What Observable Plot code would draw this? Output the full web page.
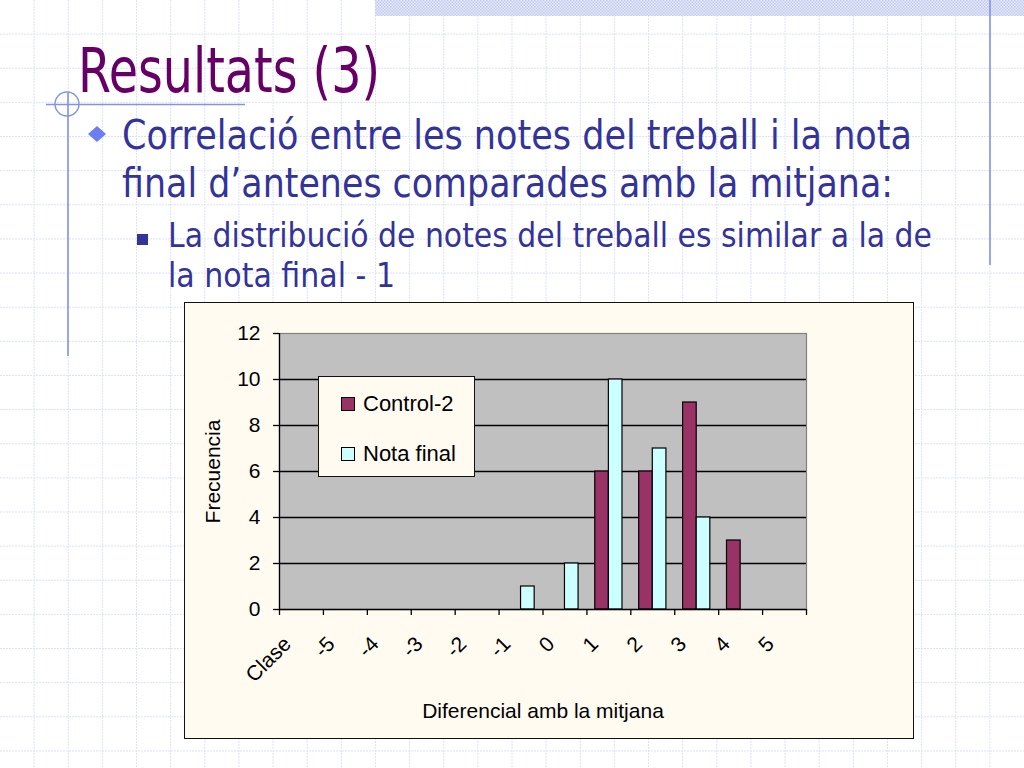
<!DOCTYPE html>
<html>
<head>
<meta charset="utf-8">
<script src="https://cdn.jsdelivr.net/npm/d3@7"></script>
<script src="https://cdn.jsdelivr.net/npm/@observablehq/plot@0.6"></script>
<style>
  html, body { margin: 0; padding: 0; background: #fff; }
  #slide { position: relative; width: 1024px; height: 768px; overflow: hidden; background: #fff; }
  #bg { position: absolute; left: 0; top: 0; }
  #chart { position: absolute; left: 185px; top: 303px; width: 728px; height: 435px; background: #FFFBF1; outline: 1.6px solid #111; }
  #legend { position: absolute; left: 318px; top: 376px; width: 157px; height: 101px; background: #FFFBF1; border: 1.3px solid #111; box-sizing: border-box;
            font-family: "Liberation Sans", Arial, sans-serif; font-size: 22px; color: #000; }
  .item { position: absolute; left: 22px; display: flex; align-items: center; white-space: nowrap; }
  .sw { width: 12px; height: 12px; border: 1px solid #000; margin-right: 8px; }
</style>
</head>
<body>
<div id="slide">
  <svg id="bg" width="1024" height="768"></svg>
  <div id="chart"></div>
  <div id="legend"></div>
</div>
<script>
// ---- data ----
const categories = ["Clase", "-5", "-4", "-3", "-2", "-1", "0", "1", "2", "3", "4", "5"];
const control2  = [0, 0, 0, 0, 0, 0, 0, 6, 6, 9, 3, 0];
const notaFinal = [0, 0, 0, 0, 0, 1, 2, 10, 7, 4, 0, 0];
const seriesNames = ["Control-2", "Nota final"];
const seriesColors = ["#993366", "#CCFFFF"];
const yTicks = [0, 2, 4, 6, 8, 10, 12];
const xTitle = "Diferencial amb la mitjana";
const yTitle = "Frecuencia";
const slideTitle = "Resultats (3)";
const bullet1 = ["Correlació entre les notes del treball i la nota", "final d’antenes comparades amb la mitjana:"];
const bullet2 = ["La distribució de notes del treball es similar a la de", "la nota final - 1"];

// ---- slide background (graph paper, decorations, text) ----
const NS = "http://www.w3.org/2000/svg";
const bg = document.getElementById("bg");
function el(tag, attrs, parent = bg) {
  const e = document.createElementNS(NS, tag);
  for (const k in attrs) e.setAttribute(k, attrs[k]);
  parent.appendChild(e);
  return e;
}
const defs = el("defs", {});
const pat = el("pattern", {id: "chk", width: 3, height: 3, patternUnits: "userSpaceOnUse"}, defs);
el("rect", {width: 3, height: 3, fill: "#e6eafb"}, pat);
el("rect", {width: 1.5, height: 1.5, fill: "#c3cbf2"}, pat);
el("rect", {x: 1.5, y: 1.5, width: 1.5, height: 1.5, fill: "#c3cbf2"}, pat);

const step = 1024 / 30;
for (let k = 1; k * step < 1024; k++) {
  el("line", {x1: k * step, x2: k * step, y1: 0, y2: 768, stroke: "#dde2f6", "stroke-width": 1, "stroke-dasharray": "2,1"});
}
for (let k = 1; k * step < 768; k++) {
  el("line", {x1: 0, x2: 1024, y1: k * step, y2: k * step, stroke: "#dde2f6", "stroke-width": 1, "stroke-dasharray": "2,1"});
}
el("rect", {x: 375, y: 0, width: 649, height: 16, fill: "url(#chk)"});
const deco = "#8193e4";
el("line", {x1: 990, x2: 990, y1: 0, y2: 265, stroke: deco, "stroke-width": 1.6});
el("line", {x1: 46, x2: 245, y1: 104.5, y2: 104.5, stroke: deco, "stroke-width": 1.6});
el("line", {x1: 68, x2: 68, y1: 93, y2: 356, stroke: deco, "stroke-width": 1.6});
el("circle", {cx: 67, cy: 104, r: 12, fill: "none", stroke: deco, "stroke-width": 1.4});

const tFont = '"DejaVu Sans Condensed", "DejaVu Sans", sans-serif';
function txt(s, x, y, size, fill, len) {
  const t = el("text", {x, y, "font-family": tFont, "font-size": size, fill, textLength: len, lengthAdjust: "spacingAndGlyphs"});
  t.textContent = s;
}
txt(slideTitle, 78, 92, 62, "#660066", 302);
txt(bullet1[0], 122, 149, 40, "#333399", 790);
txt(bullet1[1], 122, 197, 40, "#333399", 771);
txt(bullet2[0], 168, 247, 33, "#333399", 764);
txt(bullet2[1], 168, 287, 33, "#333399", 227);
el("path", {d: "M97,126 L106,134 L97,142 L88,134 Z", fill: "#6b7ff0"});
el("rect", {x: 137, y: 234, width: 11, height: 11, fill: "#333399"});

// ---- chart ----
const rows = [];
categories.forEach((c, i) => {
  rows.push({i, cat: c, series: seriesNames[0], value: control2[i]});
  rows.push({i, cat: c, series: seriesNames[1], value: notaFinal[i]});
});
const bars = rows.filter(d => d.value > 0);
const slot = {"Control-2": [0.19, 0.5], "Nota final": [0.5, 0.81]};

const chart = Plot.plot({
  width: 728, height: 435,
  marginLeft: 94, marginRight: 107, marginTop: 30, marginBottom: 129,
  style: {background: "transparent", fontFamily: '"Liberation Sans", Arial, sans-serif', fontSize: "21px", color: "#000", overflow: "visible"},
  x: {domain: [0, categories.length], axis: null},
  y: {domain: [0, 12], axis: null},
  color: {domain: seriesNames, range: seriesColors},
  marks: [
    Plot.frame({fill: "#C0C0C0", stroke: "#808080", strokeWidth: 1.2}),
    Plot.ruleY(yTicks.filter(t => t > 0 && t < 12), {stroke: "#000", strokeWidth: 1.3}),
    Plot.rectY(bars, {x1: d => d.i + slot[d.series][0], x2: d => d.i + slot[d.series][1], y: "value", fill: "series", stroke: "#000", strokeWidth: 1.2}),
    Plot.ruleX([0], {stroke: "#000", strokeWidth: 1.3}),
    Plot.ruleY([0], {stroke: "#000", strokeWidth: 1.3}),
    Plot.axisY({ticks: yTicks, tickSize: 6, tickPadding: 13, label: null, fontSize: 21, strokeWidth: 1.3}),
    Plot.axisX({ticks: d3.range(categories.length + 1), tickSize: 6, tickFormat: () => "", label: null, strokeWidth: 1.3}),
    Plot.text(categories, {x: (d, i) => i + 0.5, y: 0, text: d => d, rotate: -45, textAnchor: "end", dx: -14, dy: 31, fontSize: 21}),
    Plot.text([yTitle], {frameAnchor: "left", text: d => d, rotate: -90, textAnchor: "middle", dx: -66, fontSize: 21}),
    Plot.text([xTitle], {frameAnchor: "bottom", text: d => d, dy: 108, fontSize: 21})
  ]
});
document.getElementById("chart").appendChild(chart);

// ---- legend ----
const legend = document.getElementById("legend");
seriesNames.forEach((name, k) => {
  const item = document.createElement("div");
  item.className = "item";
  item.style.top = (k === 0 ? 14 : 64) + "px";
  const sw = document.createElement("span");
  sw.className = "sw";
  sw.style.background = seriesColors[k];
  item.appendChild(sw);
  item.appendChild(document.createTextNode(name));
  legend.appendChild(item);
});
</script>
</body>
</html>
